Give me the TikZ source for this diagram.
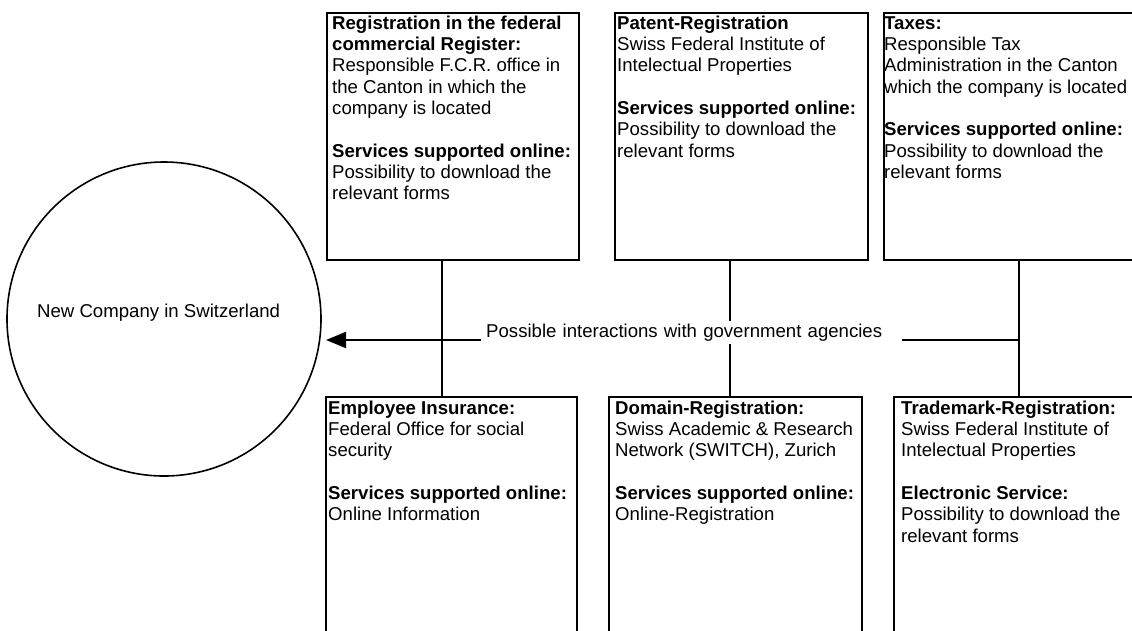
\documentclass[tikz,border=0pt]{standalone}
\usepackage{fontspec}
\setmainfont{Liberation Sans}
\usetikzlibrary{arrows.meta}
\newcommand{\firstline}{\rule{0pt}{14pt}}
\begin{document}
\begin{tikzpicture}[x=1pt,y=-1pt,
  every node/.style={font=\fontsize{18.6}{21.3}\selectfont},
  panel/.style={draw,line width=1.8pt,rectangle,inner sep=0pt,anchor=north west,minimum height=264pt},
  toppanel/.style={panel,minimum height=247pt},
  paneltext/.style={anchor=north west,inner sep=0pt,align=left},
  link/.style={line width=1.8pt}]
\useasboundingbox (0,0) rectangle (1132,630);
\clip (0,0) rectangle (1132,630);
\fill[white] (0,0) rectangle (1132,630);

% the company
\node[draw,circle,line width=1.6pt,minimum size=314pt,inner sep=0pt] (co) at (164,319) {};
\node[anchor=base west,inner sep=0pt] (cotext) at (37,317) {New Company in Switzerland};

% upper row of agencies
\node[toppanel,minimum width=252pt] (b1) at (326,12) {};
\node[paneltext] (t1) at (332,15) {\firstline\textbf{Registration in the federal}\\
  \textbf{commercial Register:}\\
  Responsible F.C.R. office in\\
  the Canton in which the\\
  company is located\\[21.3pt]
  \textbf{Services supported online:}\\
  Possibility to download the\\
  relevant forms};

\node[toppanel,minimum width=253pt] (b2) at (614,12) {};
\node[paneltext] (t2) at (617,15) {\firstline\textbf{Patent-Registration}\\
  Swiss Federal Institute of\\
  Intelectual Properties\\[21.3pt]
  \textbf{Services supported online:}\\
  Possibility to download the\\
  relevant forms};

\node[toppanel,minimum width=260pt] (b3) at (883,12) {};
\node[paneltext] (t3) at (884,15) {\firstline\textbf{Taxes:}\\
  Responsible Tax\\
  Administration in the Canton\\
  which the company is located\\[21.3pt]
  \textbf{Services supported online:}\\
  Possibility to download the\\
  relevant forms};

% lower row of agencies
\node[panel,minimum width=251pt] (b4) at (325,396) {};
\node[paneltext] (t4) at (328,400) {\firstline\textbf{Employee Insurance:}\\
  Federal Office for social\\
  security\\[21.3pt]
  \textbf{Services supported online:}\\
  Online Information};

\node[panel,minimum width=253pt] (b5) at (608,396) {};
\node[paneltext] (t5) at (615,400) {\firstline\textbf{Domain-Registration:}\\
  Swiss Academic \& Research\\
  Network (SWITCH), Zurich\\[21.3pt]
  \textbf{Services supported online:}\\
  Online-Registration};

\node[panel,minimum width=260pt] (b6) at (893,396) {};
\node[paneltext] (t6) at (901,400) {\firstline\textbf{Trademark-Registration:}\\
  Swiss Federal Institute of\\
  Intelectual Properties\\[21.3pt]
  \textbf{Electronic Service:}\\
  Possibility to download the\\
  relevant forms};

% connectors between the rows
\coordinate (c1) at (442,0);
\coordinate (c2) at (730,0);
\coordinate (c3) at (1019,0);
\draw[link] (b1.south -| c1) -- (b4.north -| c1);
\draw[link] (b2.south -| c2) -- (b5.north -| c2);
\draw[link] (b3.south -| c3) -- (b6.north -| c3);

% interaction arrow towards the company
\coordinate (j3) at (1019,340);
\coordinate (tip) at (326,340);
\draw[link,-{Triangle[length=20pt,width=16pt]}] (j3) -- (tip);
\node[fill=white,anchor=base west,inner xsep=5pt,inner ysep=3pt,text width=411pt,align=left] (lbl) at (481,337) {Possible interactions with government agencies};
\end{tikzpicture}
\end{document}
